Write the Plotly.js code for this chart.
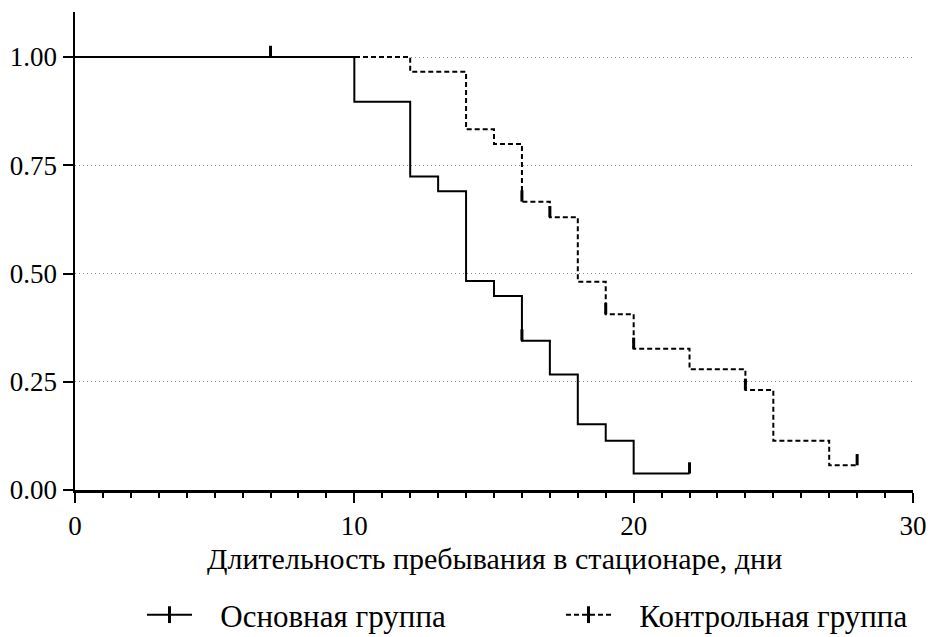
<!DOCTYPE html>
<html>
<head>
<meta charset="utf-8">
<script src="https://cdn.plot.ly/plotly-3.0.1.min.js"></script>
<style>html,body{margin:0;padding:0;background:#fff;}#chart{width:928px;height:637px;}</style>
</head>
<body>
<div id="chart"></div>
<script>
// Kaplan–Meier estimates
const mainTimes = [0, 10, 12, 13, 14, 15, 16, 17, 18, 19, 20, 22];
const mainSurv  = [1.0, 0.897, 0.724, 0.690, 0.483, 0.448, 0.345, 0.267, 0.152, 0.114, 0.038, 0.038];
const mainCensorTimes = [7, 16, 22];
const mainCensorSurv  = [1.0, 0.345, 0.038];

const ctrlTimes = [0, 12, 14, 15, 16, 17, 18, 19, 20, 22, 24, 25, 27, 28];
const ctrlSurv  = [1.0, 0.966, 0.833, 0.799, 0.666, 0.630, 0.481, 0.406, 0.326, 0.279, 0.231, 0.114, 0.057, 0.057];
const ctrlCensorTimes = [16, 17, 19, 20, 24, 28];
const ctrlCensorSurv  = [0.666, 0.630, 0.406, 0.326, 0.231, 0.057];

const seriesNames = ['Основная группа', 'Контрольная группа'];
const xTickVals = [0, 10, 20, 30];
const yTickVals = [0, 0.25, 0.5, 0.75, 1.0];
const yTickText = ['0.00', '0.25', '0.50', '0.75', '1.00'];
const xTitle = 'Длительность пребывания в стационаре, дни';

const FONT = 'Liberation Serif';
const markLen = 0.026;

function censorTrace(xs, ys) {
  return {
    x: xs, y: ys, type: 'scatter', mode: 'markers', showlegend: false, hoverinfo: 'skip',
    marker: {size: 1, opacity: 0, color: '#000'},
    error_y: {type: 'data', symmetric: false, array: ys.map(() => markLen), arrayminus: ys.map(() => 0),
              width: 0, thickness: 3, color: '#000'}
  };
}

const pad = '\u00A0\u00A0\u00A0';
const traces = [
  {x: ctrlTimes, y: ctrlSurv, type: 'scatter', mode: 'lines', line: {shape: 'hv', color: '#000', width: 2, dash: '5px,3px'}, showlegend: false},
  {x: mainTimes, y: mainSurv, type: 'scatter', mode: 'lines', line: {shape: 'hv', color: '#000', width: 2}, showlegend: false},
  censorTrace(mainCensorTimes, mainCensorSurv),
  censorTrace(ctrlCensorTimes, ctrlCensorSurv),
  {x: [null], y: [null], type: 'scatter', mode: 'lines+markers', name: pad + seriesNames[0], legend: 'legend',
   line: {color: '#000', width: 2}, marker: {symbol: 'line-ns', size: 12, line: {width: 3, color: '#000'}}},
  {x: [null], y: [null], type: 'scatter', mode: 'lines+markers', name: pad + seriesNames[1], legend: 'legend2',
   line: {color: '#000', width: 2, dash: '5px,3px'}, marker: {symbol: 'line-ns', size: 12, line: {width: 3, color: '#000'}}}
];

const legendFont = {family: FONT, size: 31, color: '#000'};
const layout = {
  width: 928, height: 637,
  margin: {l: 75, r: 15, t: 12, b: 147},
  paper_bgcolor: '#fff', plot_bgcolor: '#fff',
  font: {family: FONT, size: 27, color: '#000'},
  showlegend: true,
  legend: {orientation: 'h', xref: 'container', yref: 'container', x: 142 / 928, xanchor: 'left', y: 1 - 615 / 637, yanchor: 'middle', itemwidth: 45,
           font: legendFont, bgcolor: 'rgba(0,0,0,0)', borderwidth: 0},
  legend2: {orientation: 'h', xref: 'container', yref: 'container', x: 561 / 928, xanchor: 'left', y: 1 - 615 / 637, yanchor: 'middle', itemwidth: 45,
           font: legendFont, bgcolor: 'rgba(0,0,0,0)', borderwidth: 0},
  annotations: [{
    text: xTitle, xref: 'paper', yref: 'paper', x: 0.501, y: (490 - 558) / 478,
    xanchor: 'center', yanchor: 'middle', showarrow: false,
    font: {family: FONT, size: 30, color: '#000'}
  }],
  xaxis: {
    range: [0, 30], tickvals: xTickVals, ticktext: xTickVals.map(String),
    ticks: 'outside', ticklen: 10, tickwidth: 2, tickcolor: '#000',
    minor: {dtick: 1, ticks: 'outside', ticklen: 5, tickwidth: 2, tickcolor: '#000', showgrid: false},
    showline: true, linecolor: '#000', linewidth: 2.5, showgrid: false, zeroline: false,
    tickfont: {family: FONT, size: 27, color: '#000'},
    automargin: false, fixedrange: true
  },
  yaxis: {
    range: [0, 1.104], tickvals: yTickVals, ticktext: yTickText,
    ticks: 'outside', ticklen: 10, tickwidth: 2, tickcolor: '#000',
    showline: true, linecolor: '#000', linewidth: 2.5,
    showgrid: true, gridcolor: '#8a8a8a', gridwidth: 1, griddash: '1px,3px', zeroline: false,
    tickfont: {family: FONT, size: 27, color: '#000'},
    automargin: false, fixedrange: true
  }
};

Plotly.newPlot('chart', traces, layout, {staticPlot: true, displayModeBar: false});
</script>
</body>
</html>
